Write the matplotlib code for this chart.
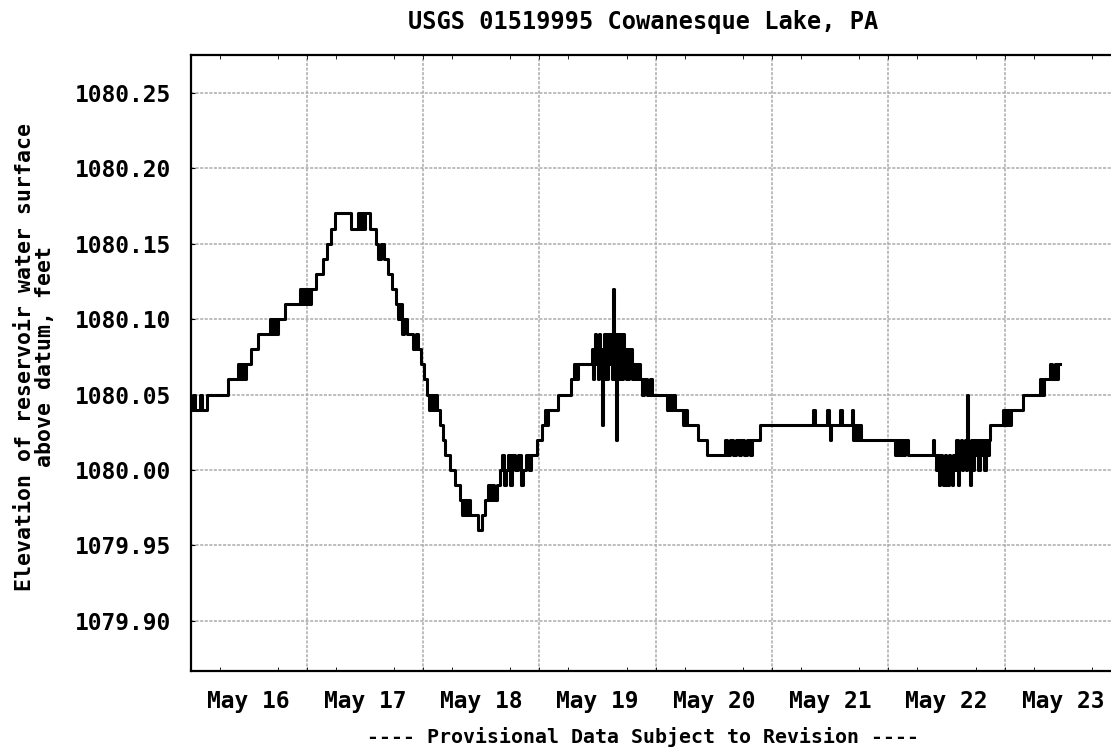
import matplotlib
matplotlib.use("Agg")
import matplotlib.pyplot as plt
import matplotlib.dates as mdates
import pandas as pd

# гидрограф: часы от 16 мая 00:00 и отметка уровня (ступенчато)
hours = [0.0, 0.6, 1.0, 2.0, 2.3, 3.5, 7.7, 9.8, 10.2, 10.6, 11.0, 11.4, 12.5, 13.9,
         16.4, 16.8, 17.2, 17.6, 18.0, 19.5, 22.6, 23.0, 23.3, 23.7, 24.0, 24.4, 24.8,
         25.9, 27.3, 28.2, 29.0, 29.8, 33.1, 34.6, 35.0, 35.4, 35.8, 36.1, 37.0,
         38.3, 38.7, 39.3, 39.9, 40.8, 41.6, 42.4, 42.8, 43.2, 43.7, 44.1, 44.7, 45.9,
         46.5, 47.0, 47.6, 48.2, 48.8, 49.2, 49.7, 50.1, 50.5, 50.9, 51.5, 52.1, 52.5,
         53.6, 54.6, 55.6, 56.1, 56.5, 56.9, 57.3, 57.7, 59.4, 60.2, 60.8, 61.4, 61.8,
         62.2, 62.6, 63.3, 63.9, 64.3, 64.7, 65.1, 65.5, 65.9, 66.4, 67.0, 67.6, 68.2,
         68.6, 69.2, 69.9, 70.3, 71.5, 72.5, 73.2, 73.6, 73.8, 75.9, 78.5, 79.1, 79.6,
         80.0,
         82.9, 83.1, 83.3, 83.5, 83.7, 83.9, 84.1, 84.3, 84.5, 84.7,
         84.9, 85.1, 85.3, 85.5, 85.7, 85.9, 86.1, 86.3, 86.5, 86.7,
         86.9, 87.1, 87.3, 87.5, 87.7, 87.9, 88.1, 88.3, 88.5, 88.7,
         88.9, 89.1, 89.3, 89.5, 89.7, 89.9, 90.1, 90.3, 90.5, 90.7,
         90.9, 91.1,
         91.5, 91.9, 92.4, 92.8, 93.2, 93.6, 94.2, 94.8, 95.2, 98.3, 98.8, 99.2,
         99.6, 100.0, 101.6, 102.0, 102.4, 104.7, 106.6, 110.3, 110.7, 111.4, 112.0,
         112.6, 113.1, 113.7, 114.3, 114.9, 115.5, 115.9, 117.5, 128.5, 128.9, 131.4,
         131.8, 132.0, 132.2, 134.0, 134.5, 136.5, 136.7, 137.2, 137.6, 138.0, 138.4,
         145.4, 145.8, 146.2, 146.6, 147.1, 147.5, 148.1,
         153.2, 153.5, 153.8, 154.1, 154.4, 154.7, 155.0, 155.3, 155.6, 155.9,
         156.2, 156.5, 156.8, 157.1, 157.4, 157.7, 158.0, 158.3, 158.6, 158.9,
         159.2, 159.5, 159.8, 160.1, 160.3, 160.5, 160.8, 161.1, 161.4, 161.7,
         162.0, 162.3, 162.6, 162.9, 163.2, 163.5, 163.8, 164.1, 164.4, 164.7,
         165.0, 167.7, 168.1, 168.5, 168.9, 169.4, 171.8, 175.3, 175.8,
         176.2, 177.4, 177.8, 178.3, 178.7, 179.1, 179.5]

# сотые доли фута над 1080.00
level = [4, 5, 4, 5, 4, 5, 6, 7, 6, 7, 6, 7, 8, 9,
         10, 9, 10, 9, 10, 11, 12, 11, 12, 11, 12, 11, 12,
         13, 14, 15, 16, 17, 16, 17, 16, 17, 16, 17, 16,
         15, 14, 15, 14, 13, 12, 11, 10, 11, 9, 10, 9, 8,
         9, 8, 7, 6, 5, 4, 5, 4, 5, 4, 3, 2, 1,
         0, -1, -2, -3, -2, -3, -2, -3, -4, -3, -2, -1, -2,
         -1, -2, -1, 0, 1, -1, 0, 1, -1, 1, 0, 1, -1,
         0, 1, 0, 1, 2, 3, 4, 3, 4, 5, 6, 7, 6,
         7,
         8, 6, 7, 9, 7, 8, 6, 9, 7, 8,
         3, 7, 9, 6, 9, 6, 8, 9, 7, 9,
         6, 12, 8, 6, 9, 2, 7, 9, 6, 8,
         9, 6, 9, 7, 8, 6, 8, 6, 8, 7,
         8, 6,
         7, 6, 7, 6, 5, 6, 5, 6, 5, 4, 5, 4,
         5, 4, 3, 4, 3, 2, 1, 2, 1, 2, 1,
         2, 1, 2, 1, 2, 1, 2, 3, 4, 3, 4,
         3, 2, 3, 4, 3, 4, 2, 3, 2, 3, 2,
         1, 2, 1, 2, 1, 2, 1,
         2, 1, 0, 1, -1, 1, 0, -1, 1, 0,
         -1, 1, 0, -1, 1, 0, 2, -1, 1, 2,
         0, 1, 2, 0, 5, 1, -1, 2, 0, 2,
         1, 2, 0, 2, 1, 2, 0, 2, 1, 2,
         3, 4, 3, 4, 3, 4, 5, 6, 5,
         6, 7, 6, 7, 6, 7, 7]

y_ticks = [1079.90, 1079.95, 1080.00, 1080.05, 1080.10, 1080.15, 1080.20, 1080.25]
day_labels = ["May 16", "May 17", "May 18", "May 19", "May 20", "May 21", "May 22", "May 23"]

start = pd.Timestamp("2011-05-16")
times = start + pd.to_timedelta(hours, unit="h")
elev = [1080.0 + v / 100.0 for v in level]

plt.rcParams['font.family'] = "DejaVu Sans Mono"
plt.rcParams['font.weight'] = 'bold'

fig = plt.figure(figsize=(11.11, 7.55), dpi=100)
W, H = 1111.0, 755.0
# правая граница графика уходит за край картинки, как в оригинале
ax = fig.add_axes([190.5 / W, (H - 670.7) / H, 930.4 / W, (670.7 - 55.0) / H])

ax.plot(times, elev, color='black', lw=2.2, drawstyle='steps-post', zorder=3)

ax.set_xlim(start, start + pd.Timedelta(days=8))
ax.set_ylim(1079.867, 1080.275)

# подписи дней по центру суток, сетка по полуночи
noon = [start + pd.Timedelta(hours=12 + 24 * i) for i in range(len(day_labels))]
midnights = [start + pd.Timedelta(days=i) for i in range(1, 8)]
ax.set_xticks(noon)
ax.set_xticklabels(day_labels)
ax.xaxis.set_minor_locator(mdates.HourLocator(byhour=[0, 6, 12, 18]))
ax.tick_params(axis='x', which='major', length=0, pad=14, labelsize=16.5)
ax.tick_params(axis='x', which='minor', direction='in', length=3, top=True, bottom=True)
for m in midnights:
    ax.axvline(m, color='#ababab', lw=1.1, ls=(0, (2, 1)), zorder=1)

ax.set_yticks(y_ticks)
ax.set_yticklabels([f"{v:.2f}" for v in y_ticks])
ax.tick_params(axis='y', direction='in', length=3, labelsize=16.5, pad=14)
ax.yaxis.grid(True, color='#ababab', lw=1.1, ls=(0, (2, 1)), zorder=1)

for s in ['left', 'bottom', 'top']:
    ax.spines[s].set_linewidth(1.6)
ax.spines['right'].set_visible(False)

ax.set_ylabel("Elevation of reservoir water surface\nabove datum, feet",
              fontsize=15.5, fontweight='bold', linespacing=0.95)
ax.yaxis.set_label_coords(-0.146, 0.51)

fig.text(643 / W, 1 - 22 / H, "USGS 01519995 Cowanesque Lake, PA",
         ha='center', va='center', fontsize=17, fontweight='bold')
fig.text(643 / W, 1 - 737 / H, "---- Provisional Data Subject to Revision ----",
         ha='center', va='center', fontsize=14.3, fontweight='bold')

fig.savefig("out.png", dpi=100)
